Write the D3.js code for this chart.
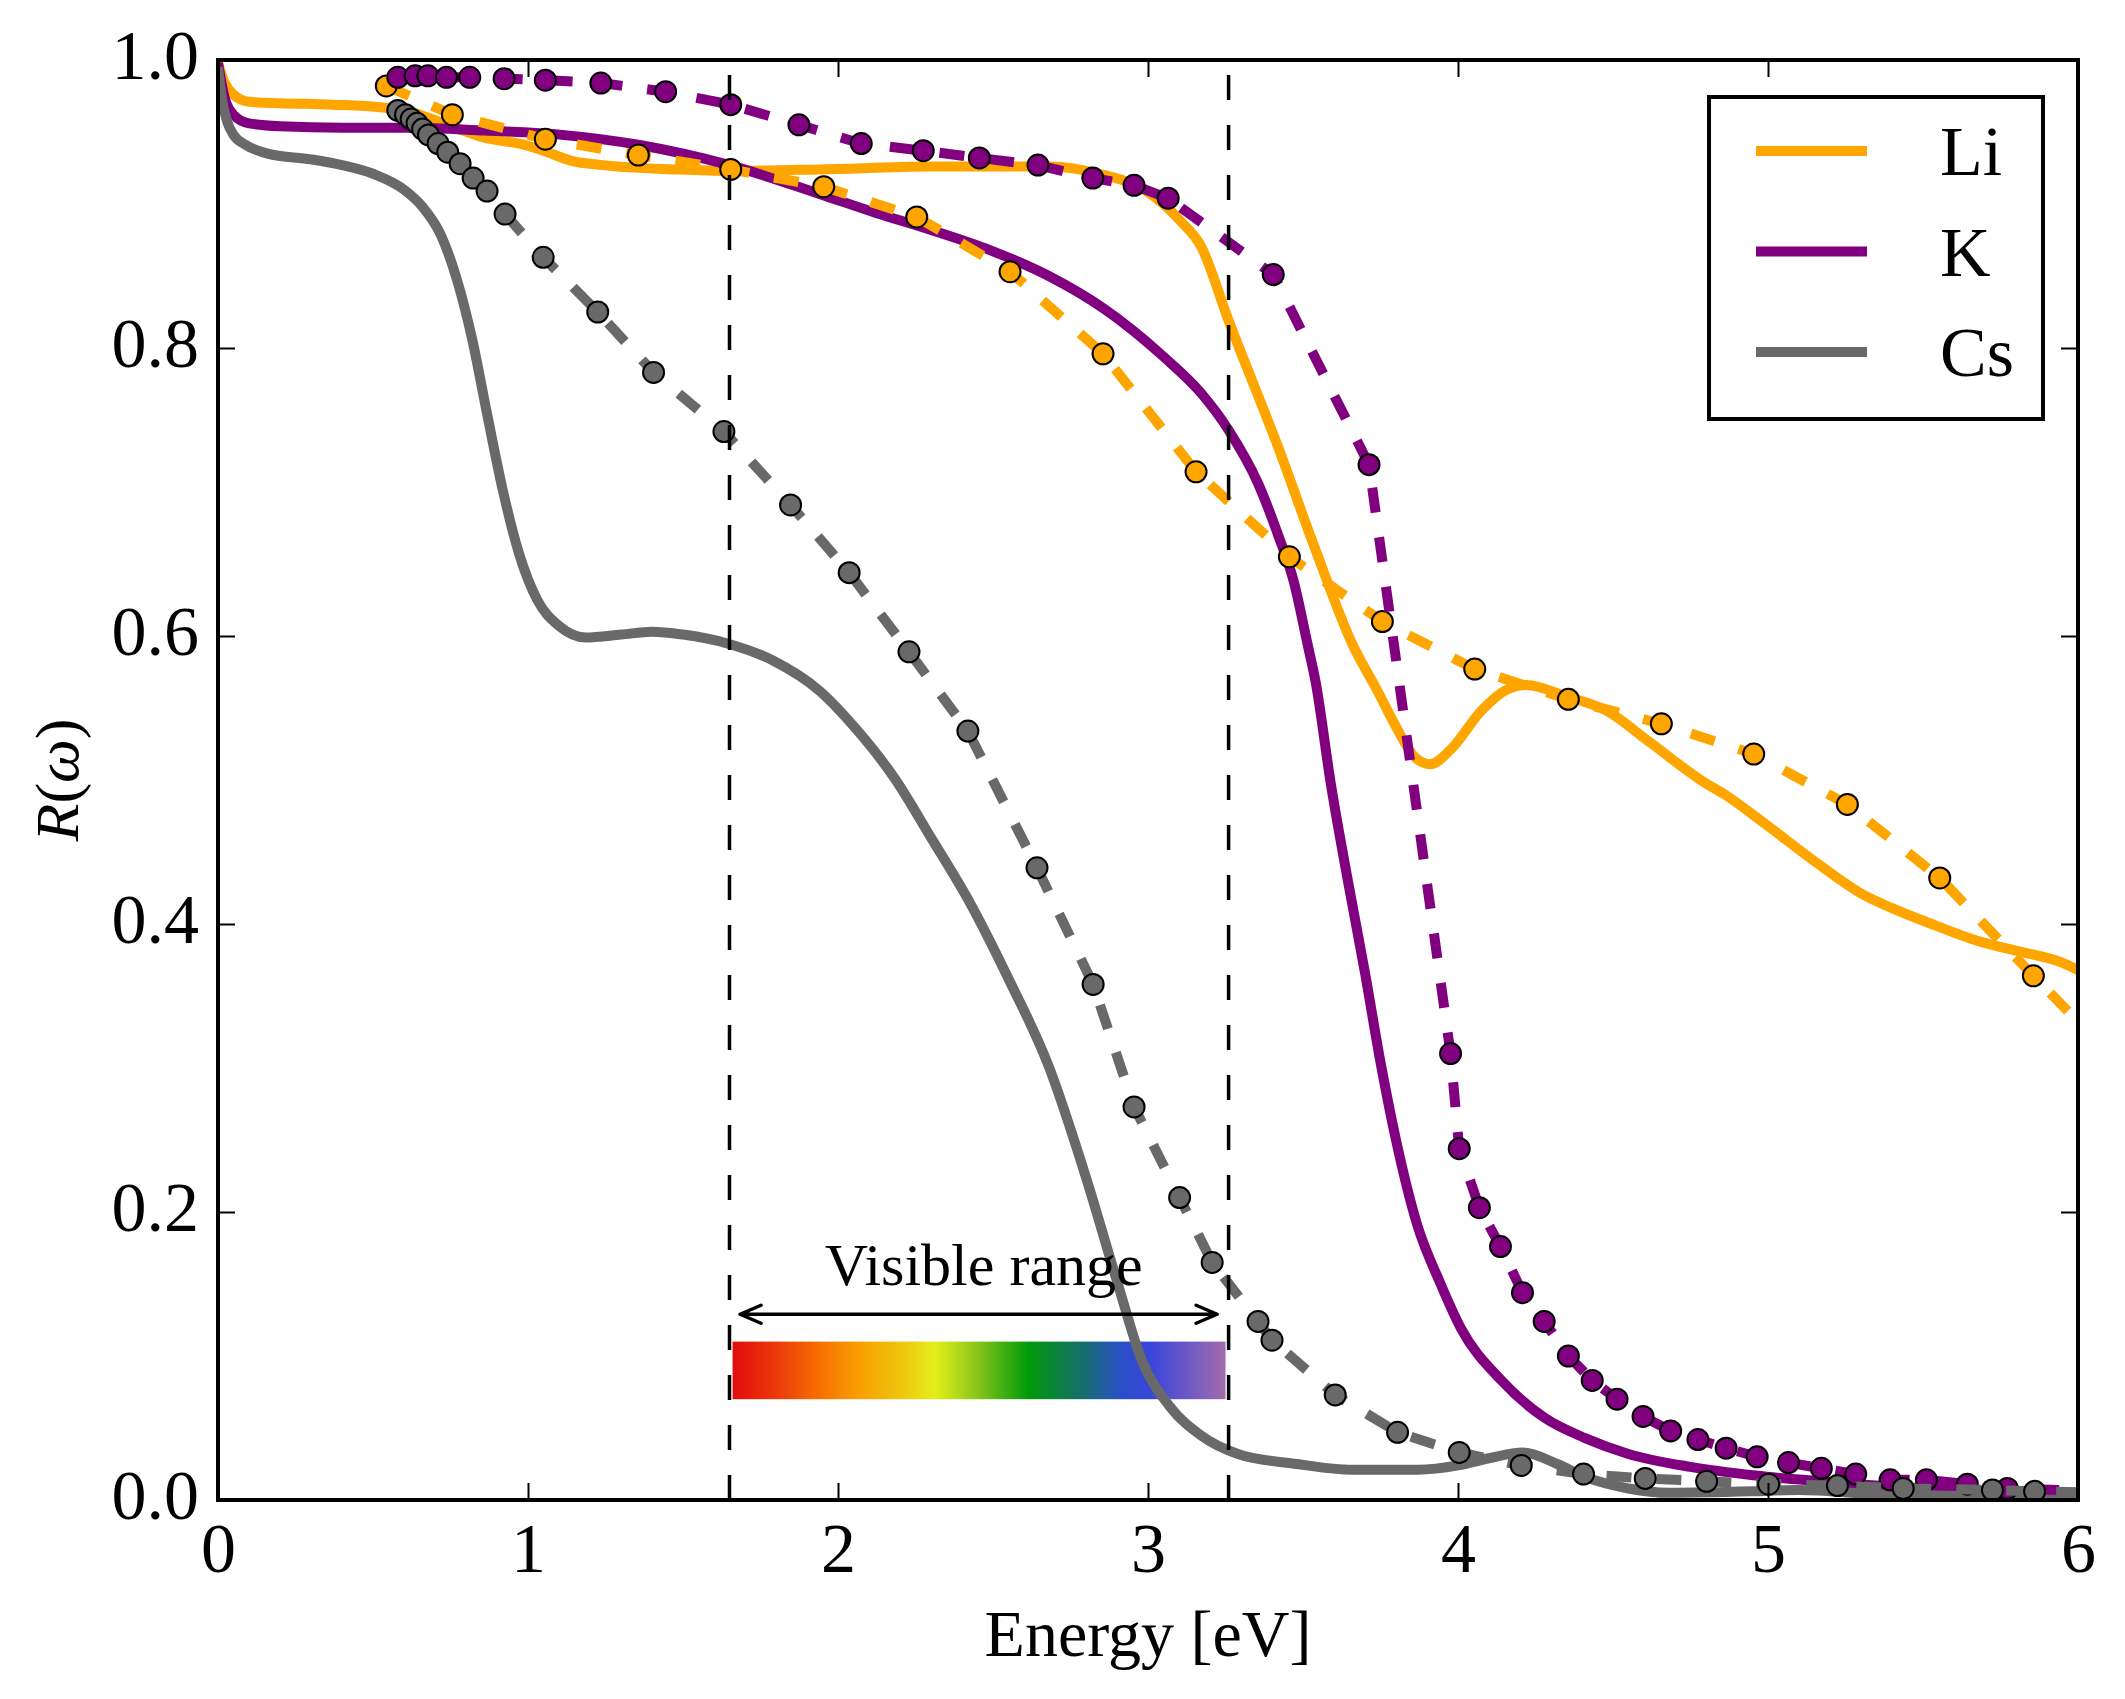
<!DOCTYPE html>
<html>
<head>
<meta charset="utf-8">
<script src="https://cdn.jsdelivr.net/npm/d3@7"></script>
<style>
  html, body { margin: 0; padding: 0; background: #fff; }
</style>
</head>
<body>
<div id="chart"></div>
<script>
// ---- data (energy in eV, reflectance R) ----
const liTheory = [[0,0.998],[0.02,0.985],[0.05,0.976],[0.1,0.971],[0.2,0.970],[0.37,0.969],[0.53,0.967],
  [0.62,0.964],[0.74,0.955],[0.86,0.946],[0.99,0.941],[1.05,0.937],[1.14,0.930],[1.24,0.927],[1.48,0.924],
  [1.65,0.923],[1.94,0.924],[2.3,0.926],[2.68,0.926],[2.86,0.920],[2.98,0.911],[3.11,0.887],[3.17,0.871],
  [3.26,0.819],[3.42,0.731],[3.54,0.660],[3.66,0.594],[3.74,0.562],[3.80,0.537],[3.86,0.516],[3.91,0.511],
  [3.98,0.522],[4.075,0.548],[4.16,0.563],[4.22,0.566],[4.35,0.558],[4.48,0.548],[4.62,0.526],[4.79,0.499],
  [4.86,0.490],[5.0,0.468],[5.16,0.442],[5.31,0.420],[5.4,0.411],[5.54,0.399],[5.68,0.388],[5.81,0.381],
  [5.95,0.373],[6.0,0.368]];

const kTheory = [[0,0.998],[0.02,0.975],[0.05,0.962],[0.1,0.956],[0.2,0.954],[0.4,0.953],[0.62,0.953],
  [0.86,0.951],[1.11,0.948],[1.36,0.941],[1.65,0.927],[1.94,0.907],[2.12,0.894],[2.3,0.882],[2.49,0.868],
  [2.68,0.850],[2.86,0.827],[3.05,0.794],[3.17,0.769],[3.26,0.743],[3.355,0.706],[3.42,0.670],[3.47,0.638],
  [3.515,0.594],[3.54,0.569],[3.59,0.497],[3.65,0.424],[3.70,0.366],[3.75,0.304],[3.80,0.250],[3.87,0.190],
  [3.94,0.152],[4.01,0.119],[4.14,0.083],[4.28,0.057],[4.41,0.043],[4.55,0.032],[4.75,0.023],[4.96,0.017],
  [5.23,0.012],[5.5,0.008],[6.0,0.005]];

const csTheory = [[0,0.995],[0.015,0.970],[0.03,0.957],[0.05,0.948],[0.09,0.941],[0.16,0.935],[0.3,0.931],
  [0.4,0.927],[0.5,0.921],[0.6,0.910],[0.66,0.898],[0.72,0.878],[0.77,0.848],[0.82,0.806],[0.87,0.752],
  [0.92,0.700],[0.97,0.658],[1.03,0.625],[1.1,0.607],[1.185,0.599],[1.3,0.601],[1.4,0.603],[1.5,0.601],
  [1.64,0.595],[1.79,0.583],[1.94,0.562],[2.06,0.535],[2.18,0.502],[2.3,0.460],[2.43,0.413],[2.55,0.362],
  [2.68,0.301],[2.8,0.224],[2.9,0.152],[2.98,0.097],[3.07,0.065],[3.17,0.045],[3.29,0.032],[3.48,0.025],
  [3.66,0.021],[3.87,0.021],[4.0,0.024],[4.1,0.029],[4.21,0.033],[4.32,0.025],[4.41,0.016],[4.55,0.008],
  [4.68,0.005],[4.95,0.006],[5.1,0.007],[5.36,0.004],[6.0,0.002]];

const liExpt = [[0.543,0.982],[0.756,0.962],[1.056,0.945],[1.356,0.934],[1.654,0.924],[1.954,0.912],
  [2.254,0.891],[2.555,0.853],[2.855,0.796],[3.155,0.714],[3.456,0.655],[3.756,0.610],[4.054,0.577],
  [4.356,0.556],[4.656,0.539],[4.954,0.518],[5.256,0.483],[5.554,0.432],[5.856,0.364],[6.156,0.298]];

const kExpt = [[0.58,0.988],[0.636,0.989],[0.677,0.989],[0.737,0.988],[0.812,0.988],[0.923,0.987],
  [1.056,0.986],[1.235,0.984],[1.444,0.978],[1.654,0.969],[1.874,0.955],[2.075,0.942],[2.275,0.937],
  [2.456,0.932],[2.645,0.927],[2.822,0.918],[2.955,0.913],[3.065,0.904],[3.404,0.851],[3.713,0.719],
  [3.976,0.310],[4.004,0.244],[4.069,0.203],[4.137,0.176],[4.208,0.144],[4.278,0.124],[4.356,0.100],
  [4.433,0.083],[4.513,0.070],[4.597,0.058],[4.686,0.048],[4.774,0.042],[4.865,0.036],[4.965,0.030],
  [5.066,0.026],[5.172,0.022],[5.283,0.018],[5.394,0.014],[5.511,0.014],[5.643,0.011],[5.772,0.008],
  [6.1,0.006]];

const csExpt = [[0.58,0.965],[0.605,0.962],[0.623,0.959],[0.642,0.956],[0.66,0.952],[0.679,0.948],
  [0.71,0.942],[0.741,0.936],[0.781,0.928],[0.823,0.918],[0.868,0.909],[0.926,0.893],[1.049,0.863],
  [1.225,0.825],[1.405,0.783],[1.632,0.742],[1.847,0.691],[2.036,0.644],[2.229,0.589],[2.419,0.534],
  [2.642,0.439],[2.823,0.358],[2.955,0.273],[3.102,0.210],[3.207,0.165],[3.355,0.124],[3.400,0.111],
  [3.604,0.073],[3.805,0.047],[4.004,0.033],[4.204,0.024],[4.405,0.018],[4.604,0.015],[4.802,0.013],
  [5.002,0.011],[5.224,0.010],[5.436,0.008],[5.724,0.007],[5.860,0.006],[6.1,0.005]];

const metals = ['Li', 'K', 'Cs'];
const colors = ['#FFA500', '#800080', '#696969'];
const xTicks = [0, 1, 2, 3, 4, 5, 6];
const yTicks = [0, 0.2, 0.4, 0.6, 0.8, 1.0];

// visible light window (eV) and annotation
const visibleEdges = [1.65, 3.26];
const spectrumE = [1.66, 3.25];
const spectrumR = [0.07, 0.11];
const arrowE = [1.684, 3.223];
const arrowR = 0.129;
const labelPos = [2.47, 0.149];
const spectrumStops = [
  [0, '#e20c0c'], [0.09, '#ec3a0c'], [0.19, '#f77800'], [0.26, '#f8a000'], [0.34, '#efc40e'],
  [0.41, '#e4ee1a'], [0.49, '#90c81a'], [0.60, '#009a0a'], [0.71, '#166e6c'], [0.79, '#2a4ec8'],
  [0.85, '#3a46da'], [1, '#a26cac']];

const serif = "'Liberation Serif', 'Times New Roman', Times, 'DejaVu Serif', serif";

// ---- dimensions ----
const dims = { width: 2125, height: 1699, margin: { top: 60, right: 47, bottom: 199, left: 218 } };
const x0 = dims.margin.left, x1 = dims.width - dims.margin.right;
const y0 = dims.height - dims.margin.bottom, y1 = dims.margin.top;

const svg = d3.select('#chart').append('svg')
  .attr('width', dims.width).attr('height', dims.height)
  .attr('font-family', serif);

const x = d3.scaleLinear().domain([0, 6]).range([x0, x1]);
const y = d3.scaleLinear().domain([0, 1]).range([y0, y1]);

const defs = svg.append('defs');
defs.append('clipPath').attr('id', 'plotclip').append('rect')
  .attr('x', x0).attr('y', y1).attr('width', x1 - x0).attr('height', y0 - y1);

const grad = defs.append('linearGradient').attr('id', 'spectrum')
  .attr('x1', '0%').attr('x2', '100%').attr('y1', '0%').attr('y2', '0%');
grad.selectAll('stop').data(spectrumStops).join('stop')
  .attr('offset', d => d[0]).attr('stop-color', d => d[1]);

const plot = svg.append('g').attr('clip-path', 'url(#plotclip)');

// visible range annotation
plot.append('rect')
  .attr('x', x(spectrumE[0])).attr('y', y(spectrumR[1]))
  .attr('width', x(spectrumE[1]) - x(spectrumE[0]))
  .attr('height', y(spectrumR[0]) - y(spectrumR[1]))
  .attr('fill', 'url(#spectrum)');

svg.append('text')
  .attr('x', x(labelPos[0])).attr('y', y(labelPos[1]))
  .attr('text-anchor', 'middle').attr('font-size', 60).attr('font-family', serif)
  .text('Visible range');

const ay = y(arrowR), ax0 = x(arrowE[0]), ax1 = x(arrowE[1]);
const head = 21, hw = 9;
svg.append('path')
  .attr('d', `M${ax0},${ay}L${ax1},${ay}` +
    `M${ax0 + head},${ay - hw}L${ax0},${ay}L${ax0 + head},${ay + hw}` +
    `M${ax1 - head},${ay - hw}L${ax1},${ay}L${ax1 - head},${ay + hw}`)
  .attr('fill', 'none').attr('stroke', '#000').attr('stroke-width', 3.5)
  .attr('stroke-linejoin', 'round').attr('stroke-linecap', 'round');

// curves
const smooth = d3.line().x(d => x(d[0])).y(d => y(d[1])).curve(d3.curveMonotoneX);
const straight = d3.line().x(d => x(d[0])).y(d => y(d[1]));

const theory = [liTheory, kTheory, csTheory];
const expt = [liExpt, kExpt, csExpt];

theory.forEach((data, i) => {
  plot.append('path').attr('d', smooth(data))
    .attr('fill', 'none').attr('stroke', colors[i]).attr('stroke-width', 10)
    .attr('stroke-linejoin', 'round');
});

expt.forEach((data, i) => {
  plot.append('path').attr('d', straight(data))
    .attr('fill', 'none').attr('stroke', colors[i]).attr('stroke-width', 10)
    .attr('stroke-dasharray', '25,25');
  plot.append('g').selectAll('circle').data(data).join('circle')
    .attr('cx', d => x(d[0])).attr('cy', d => y(d[1])).attr('r', 10.5)
    .attr('fill', colors[i]).attr('stroke', '#000').attr('stroke-width', 2);
});

// vertical dashed lines at visible edges
plot.selectAll('.vline').data(visibleEdges).join('line')
  .attr('class', 'vline')
  .attr('x1', d => x(d)).attr('x2', d => x(d))
  .attr('y1', y(0)).attr('y2', y(1))
  .attr('stroke', '#000').attr('stroke-width', 3.5).attr('stroke-dasharray', '25,25');

// axes (ticks inward on all four sides)
const tickLen = 17;
function styleAxis(g) {
  g.attr('font-family', serif).attr('font-size', 70);
  g.select('.domain').remove();
  g.selectAll('.tick line').attr('stroke', '#000').attr('stroke-width', 2);
  g.selectAll('.tick text').attr('fill', '#000');
}

svg.append('g').attr('transform', `translate(0,${y0})`)
  .call(d3.axisBottom(x).tickValues(xTicks).tickSizeInner(-tickLen).tickSizeOuter(0).tickFormat(d3.format('d')))
  .call(styleAxis)
  .call(g => g.selectAll('.tick text').attr('y', 72).attr('dy', null));

svg.append('g').attr('transform', `translate(0,${y1})`)
  .call(d3.axisTop(x).tickValues(xTicks).tickSizeInner(-tickLen).tickSizeOuter(0).tickFormat(''))
  .call(styleAxis);

svg.append('g').attr('transform', `translate(${x0},0)`)
  .call(d3.axisLeft(y).tickValues(yTicks).tickSizeInner(-tickLen).tickSizeOuter(0).tickFormat(d3.format('.1f')))
  .call(styleAxis)
  .call(g => g.selectAll('.tick text').attr('x', -19).attr('y', 18).attr('dy', null));

svg.append('g').attr('transform', `translate(${x1},0)`)
  .call(d3.axisRight(y).tickValues(yTicks).tickSizeInner(-tickLen).tickSizeOuter(0).tickFormat(''))
  .call(styleAxis);

svg.append('rect')
  .attr('x', x0).attr('y', y1).attr('width', x1 - x0).attr('height', y0 - y1)
  .attr('fill', 'none').attr('stroke', '#000').attr('stroke-width', 4);

// axis labels
svg.append('text')
  .attr('x', (x0 + x1) / 2).attr('y', 1656)
  .attr('text-anchor', 'middle').attr('font-size', 66).attr('font-family', serif)
  .text('Energy [eV]');

const yl = svg.append('text')
  .attr('transform', `translate(78,${(y0 + y1) / 2}) rotate(-90)`)
  .attr('text-anchor', 'middle').attr('font-size', 62).attr('font-family', serif);
yl.append('tspan').attr('font-style', 'italic').text('R');
yl.append('tspan').text('(');
yl.append('tspan').attr('font-style', 'italic').text('ω');
yl.append('tspan').text(')');

// legend
const legend = svg.append('g');
legend.append('rect')
  .attr('x', 1709).attr('y', 97).attr('width', 334).attr('height', 322)
  .attr('fill', '#fff').attr('stroke', '#000').attr('stroke-width', 4);
metals.forEach((m, i) => {
  const ly = 151 + i * 100.5;
  legend.append('line')
    .attr('x1', 1756).attr('x2', 1867).attr('y1', ly).attr('y2', ly)
    .attr('stroke', colors[i]).attr('stroke-width', 10);
  legend.append('text')
    .attr('x', 1940).attr('y', ly + 24).attr('font-size', 70).attr('font-family', serif)
    .text(m);
});
</script>
</body>
</html>
